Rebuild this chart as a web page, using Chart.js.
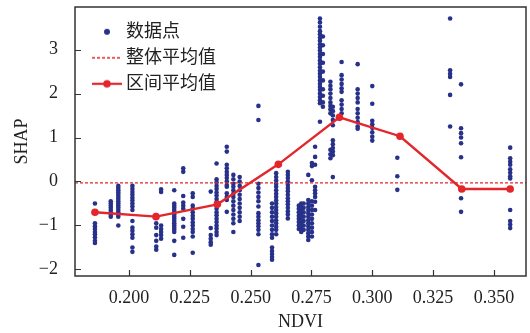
<!DOCTYPE html>
<html><head><meta charset="utf-8">
<script src="https://cdn.jsdelivr.net/npm/chart.js@4.4.1/dist/chart.umd.min.js"></script>
<style>html,body{margin:0;padding:0;background:#fff}canvas{display:block}</style>
</head><body>
<canvas id="c" width="530" height="333"></canvas>
<script>
// ---------- data ----------
const ndviColumns = [0.186, 0.1925, 0.1956, 0.2014, 0.2112, 0.2132, 0.2186, 0.2223, 0.2262, 0.2336,
  0.236, 0.2402, 0.2429, 0.2455, 0.2532, 0.2588, 0.2605, 0.2653, 0.2698, 0.2708,
  0.2718, 0.2737, 0.2752, 0.2765, 0.2785, 0.2797, 0.2828, 0.2838, 0.2874, 0.294,
  0.3, 0.3103, 0.332, 0.3365, 0.3567];
const shapColumns = [
  [-0.5, -0.95, -1.02, -1.08, -1.15, -1.2, -1.27, -1.35, -1.4],
  [-0.45, -0.5, -0.55, -0.6, -0.65, -0.7, -0.75, -0.8],
  [-0.1, -0.15, -0.2, -0.25, -0.3, -0.35, -0.4, -0.45, -0.5, -0.55, -0.6, -0.65, -0.7, -0.75, -0.8, -1.0],
  [-0.1, -0.17, -0.24, -0.3, -0.37, -0.43, -0.5, -0.57, -0.65, -0.9, -1.05, -1.12, -1.2, -1.28, -1.5, -1.6],
  [-0.95, -1.05, -1.22, -1.35, -1.48, -1.55],
  [-0.18, -0.24, -1.0, -1.08, -1.15, -1.22, -1.3],
  [-0.2, -0.5, -0.55, -0.6, -0.65, -0.7, -0.75, -0.8, -0.85, -0.9, -0.95, -1.0, -1.05, -1.1, -1.15, -1.35, -1.67],
  [0.3, 0.22, -0.33, -0.48, -0.55, -0.62, -0.85, -1.03, -1.28],
  [-0.27, -0.35, -0.55, -0.62, -0.7, -0.78, -0.85, -0.93, -1.0, -1.08, -1.15, -1.25, -1.62],
  [-0.23, -1.06, -1.22, -1.3, -1.38, -1.44],
  [0.41, 0.05, -0.02, -0.1, -0.17, -0.25, -0.32, -0.4, -0.47, -0.55, -0.62, -0.7, -0.77, -0.85, -0.92, -1.0, -1.07, -1.15, -1.22],
  [0.79, 0.68, 0.38, 0.3, 0.22, 0.15, 0.08, 0.0, -0.08, -0.12, -0.27, -0.35, -0.42, -0.69],
  [0.15, 0.05, -0.05, -0.12, -0.2, -0.28, -0.35, -0.45, -0.55, -0.65, -0.75, -0.85, -0.95, -1.15],
  [0.1, 0.0, -0.1, -0.2, -0.3, -0.4, -0.5, -0.6, -0.7, -0.8, -0.9],
  [1.72, 1.4, -0.05, -0.15, -0.25, -0.35, -0.45, -0.57, -0.72, -0.8, -0.88, -0.95, -1.02, -1.1, -1.2, -1.9],
  [-0.5, -0.6, -0.7, -0.8, -0.9, -1.0, -1.1, -1.2, -1.28, -1.5, -1.58, -1.65, -1.72, -1.78],
  [0.19, 0.1, 0.02, -0.05, -0.12, -0.2, -0.28, -0.35, -0.43, -0.5, -0.58, -0.65, -0.72, -0.8, -0.88, -0.95, -1.03, -1.1, -1.2],
  [0.22, 0.15, 0.08, 0.0, -0.08, -0.15, -0.22, -0.3, -0.38, -0.45, -0.52, -0.6, -0.68, -0.75, -0.84],
  [-0.55, -0.62, -0.7, -0.78, -0.85, -0.92, -1.0, -1.08],
  [-0.5, -0.58, -0.65, -0.72, -0.8, -0.88, -0.95, -1.02, -1.1, -1.15],
  [-0.5, -0.6, -0.7, -0.8, -0.9, -1.0, -1.1],
  [0.15, -0.42, -0.5, -0.58, -0.65, -0.72, -0.8, -0.88, -0.95, -1.02, -1.1, -1.18, -1.25, -1.33],
  [0.42, 0.35, 0.03, -0.45, -0.55, -0.65, -0.75, -0.85, -0.95, -1.05, -1.15, -1.25],
  [0.79, 0.56, 0.38, -0.12, -0.2, -0.27, -0.35, -0.46, -0.65],
  [3.71, 3.62, 3.52, 3.42, 3.35, 3.27, 3.2, 3.12, 3.05, 2.98, 2.9, 2.83, 2.75, 2.68, 2.6, 2.52, 2.45, 2.38, 2.3, 2.22, 2.15, 2.08, 2.0, 1.92, 1.85, 1.78, 1.36],
  [3.3, 3.1, 2.9, 2.7, 2.5, 2.3, 2.1, 1.95, 1.8, 1.7],
  [2.27, 2.18, 2.1, 2.0, 1.9, 1.8, 1.72, 1.64, 1.55, 0.72, 0.62, 0.53],
  [1.7, 1.6, 1.5, 1.4, 1.28, 0.94, 0.85, 0.76, 0.68, 0.6, 0.1],
  [2.72, 2.42, 2.32, 2.22, 2.12, 2.04, 1.85, 1.75, 1.65, 1.55],
  [2.67, 2.1, 2.0, 1.9, 1.8, 1.65, 1.55, 1.45, 1.35, 1.25, 1.2],
  [2.17, 1.77, 1.38, 1.3, 1.22, 1.12, 1.02, 0.93],
  [0.54, 0.12, -0.19],
  [3.71, 2.53, 2.45, 2.38, 1.97, 1.25],
  [2.21, 1.21, 1.1, 1.0, 0.87, 0.55, -0.38, -0.69],
  [0.77, 0.53, 0.45, 0.38, 0.28, 0.2, 0.12, 0.07, -0.65, -0.9, -0.98, -1.06]
];
const intervalNdvi = [0.186, 0.2111, 0.2363, 0.2614, 0.2865, 0.3114, 0.3368, 0.3567];
const intervalShap = [-0.70, -0.80, -0.52, 0.39, 1.46, 1.03, -0.17, -0.17];
const overallMean = -0.03;
const xTickValues = [0.200, 0.225, 0.250, 0.275, 0.300, 0.325, 0.350];
const yTickValues = [-2, -1, 0, 1, 2, 3];
const xRange = [0.1778, 0.3632];
const yRange = [-2.15, 3.97];
const legendNames = ['数据点', '整体平均值', '区间平均值'];
const axisTitles = ['NDVI', 'SHAP'];

// ---------- styles ----------
const NAVY = '#28318a';
const RED = '#e3262b';
const AXIS = '#333333';
const SERIF = "'Liberation Serif', 'Times New Roman', serif";
const LEGEND_FONT = "'Liberation Serif', 'Noto Sans CJK SC', serif";

const scatterPoints = [];
ndviColumns.forEach((x, i) => shapColumns[i].forEach(y => scatterPoints.push({x, y})));
const intervalPoints = intervalNdvi.map((x, i) => ({x, y: intervalShap[i]}));
const meanPoints = xRange.map(x => ({x, y: overallMean}));

function icon(kind) {
  const c = document.createElement('canvas');
  c.width = 44; c.height = 12;
  const g = c.getContext('2d');
  if (kind === 'dot') {
    g.fillStyle = NAVY; g.beginPath(); g.arc(29, 6, 3, 0, Math.PI * 2); g.fill();
  } else if (kind === 'dash') {
    g.strokeStyle = RED; g.lineWidth = 1.3; g.setLineDash([3, 2]);
    g.beginPath(); g.moveTo(14, 6); g.lineTo(44, 6); g.stroke();
  } else {
    g.strokeStyle = RED; g.lineWidth = 2.2; g.beginPath(); g.moveTo(14, 6); g.lineTo(44, 6); g.stroke();
    g.fillStyle = RED; g.beginPath(); g.arc(29, 6, 3.8, 0, Math.PI * 2); g.fill();
  }
  return c;
}
const icons = [icon('dot'), icon('dash'), icon('line')];

const framePlugin = {
  id: 'frame',
  afterDraw(chart) {
    const {ctx, chartArea: a, scales} = chart;
    ctx.save();
    ctx.strokeStyle = AXIS;
    ctx.lineWidth = 1.5;
    ctx.strokeRect(a.left, a.top, a.right - a.left, a.bottom - a.top);
    ctx.lineWidth = 1.2;
    ctx.beginPath();
    scales.x.ticks.forEach(t => {
      const px = Math.round(scales.x.getPixelForValue(t.value)) + 0.5;
      ctx.moveTo(px, a.bottom); ctx.lineTo(px, a.bottom - 6);
    });
    scales.y.ticks.forEach(t => {
      const py = Math.round(scales.y.getPixelForValue(t.value)) + 0.5;
      ctx.moveTo(a.left, py); ctx.lineTo(a.left + 6, py);
    });
    ctx.stroke();
    ctx.restore();
  }
};

new Chart(document.getElementById('c'), {
  data: {
    datasets: [
      {type: 'scatter', label: legendNames[0], data: scatterPoints, order: 3,
        backgroundColor: NAVY, borderColor: NAVY, pointRadius: 2.3, borderWidth: 0},
      {type: 'line', label: legendNames[1], data: meanPoints, order: 2,
        borderColor: RED, borderWidth: 1.3, borderDash: [3, 2], pointRadius: 0, fill: false},
      {type: 'line', label: legendNames[2], data: intervalPoints, order: 1,
        borderColor: RED, backgroundColor: RED, borderWidth: 2.4, pointRadius: 3.8,
        pointBorderWidth: 0, fill: false, tension: 0}
    ]
  },
  options: {
    responsive: false,
    animation: false,
    events: [],
    layout: {padding: {top: 7, right: 4, left: 0, bottom: 0}},
    plugins: {
      tooltip: {enabled: false},
      legend: {
        position: 'chartArea',
        align: 'start',
        title: {display: true, text: ' ', font: {size: 4}, padding: {top: 10, bottom: 0}},
        labels: {
          usePointStyle: true,
          pointStyleWidth: 34,
          padding: 8,
          color: '#222',
          font: {family: LEGEND_FONT, size: 18},
          generateLabels: (chart) => legendNames.map((t, i) => ({
            text: t, pointStyle: icons[i], fillStyle: RED, strokeStyle: RED,
            lineWidth: 0, hidden: false, datasetIndex: i, fontColor: '#222'
          }))
        }
      }
    },
    scales: {
      x: {
        type: 'linear', position: 'bottom', min: xRange[0], max: xRange[1],
        grid: {display: false}, border: {display: false},
        afterBuildTicks: s => { s.ticks = xTickValues.map(v => ({value: v})); },
        afterFit: s => { s.height = 57; s.paddingLeft = 0; s.paddingRight = 0; },
        ticks: {color: '#222', padding: 3, font: {family: SERIF, size: 18},
          callback: v => v.toFixed(3)},
        title: {display: true, text: axisTitles[0], color: '#222', padding: {top: 0, bottom: 0},
          font: {family: SERIF, size: 18}}
      },
      y: {
        type: 'linear', position: 'left', min: yRange[0], max: yRange[1],
        grid: {display: false}, border: {display: false},
        afterBuildTicks: s => { s.ticks = yTickValues.map(v => ({value: v})); },
        afterFit: s => { s.width = 75; s.paddingTop = 0; s.paddingBottom = 0; },
        ticks: {color: '#222', padding: 9, font: {family: SERIF, size: 18},
          callback: v => (v < 0 ? '\u2212' + Math.abs(v) : String(v))},
        title: {display: true, text: axisTitles[1], color: '#222', padding: {top: 11, bottom: 0},
          font: {family: SERIF, size: 18}}
      }
    }
  },
  plugins: [framePlugin]
});
</script>
</body></html>
